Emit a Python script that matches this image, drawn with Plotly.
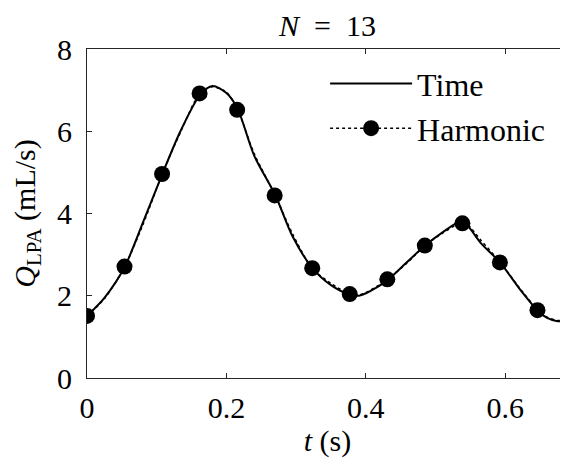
import plotly.graph_objects as go

# Harmonic samples (13 points over one 0.7 s period)
t_harm = [0.0, 0.0538, 0.1077, 0.1615, 0.2154, 0.2692, 0.3231, 0.3769, 0.4308, 0.4846, 0.5385, 0.5923, 0.6462]
q_harm = [1.51, 2.71, 4.96, 6.92, 6.52, 4.44, 2.67, 2.04, 2.40, 3.22, 3.76, 2.81, 1.65]

# Time-domain solution
t_time = [0.0, 0.025, 0.054, 0.08, 0.108, 0.134, 0.162, 0.18, 0.20, 0.216, 0.24, 0.27, 0.295,
          0.323, 0.35, 0.377, 0.39, 0.405, 0.431, 0.458, 0.485, 0.51, 0.535, 0.545, 0.565,
          0.593, 0.62, 0.647, 0.66, 0.675, 0.69, 0.70]
q_time = [1.51, 1.95, 2.70, 3.77, 4.96, 6.0, 6.88, 7.10, 6.93, 6.55, 5.40, 4.45, 3.44,
          2.68, 2.26, 2.03, 2.00, 2.10, 2.38, 2.80, 3.22, 3.54, 3.80, 3.72, 3.28,
          2.80, 2.18, 1.63, 1.46, 1.38, 1.41, 1.51]

# Harmonic reconstruction (dotted)
t_hdot = [0.0, 0.025, 0.054, 0.08, 0.108, 0.134, 0.162, 0.18, 0.20, 0.216, 0.24, 0.27, 0.295,
          0.323, 0.35, 0.377, 0.39, 0.405, 0.431, 0.458, 0.485, 0.51, 0.535, 0.545, 0.565,
          0.593, 0.62, 0.647, 0.66, 0.675, 0.69, 0.70]
q_hdot = [1.51, 1.93, 2.71, 3.72, 4.96, 5.97, 6.92, 7.08, 6.95, 6.52, 5.45, 4.44, 3.50,
          2.67, 2.30, 2.04, 2.02, 2.12, 2.40, 2.78, 3.22, 3.52, 3.76, 3.74, 3.35,
          2.81, 2.20, 1.65, 1.48, 1.40, 1.42, 1.51]

x_ticks = [0, 0.2, 0.4, 0.6]
x_ticktext = ["0", "0.2", "0.4", "0.6"]
y_ticks = [0, 2, 4, 6, 8]
y_ticktext = ["0", "2", "4", "6", "8"]

FONT = "Liberation Serif, Times New Roman, serif"
AX = "#262626"

fig = go.Figure()
fig.add_trace(go.Scatter(
    x=t_time, y=q_time, mode="lines", name="Time",
    line=dict(color="black", width=2, shape="spline", smoothing=0.8),
))
fig.add_trace(go.Scatter(
    x=t_hdot, y=q_hdot, mode="lines", name="Harmonic curve", showlegend=False,
    line=dict(color="black", width=1.5, dash="dot", shape="spline", smoothing=0.8),
))
fig.add_trace(go.Scatter(
    x=t_harm, y=q_harm, mode="markers", name="Harmonic samples", showlegend=False,
    marker=dict(color="black", size=16),
))
# legend entry for the harmonic series (dotted line with marker)
fig.add_trace(go.Scatter(
    x=[None], y=[None], mode="lines+markers", name="Harmonic",
    line=dict(color="black", width=1.5, dash="dot"),
    marker=dict(color="black", size=16),
))

fig.update_layout(
    width=560, height=460,
    margin=dict(l=79, r=0, t=41, b=90),
    paper_bgcolor="white", plot_bgcolor="white",
    font=dict(family=FONT, size=30, color="black"),
    title=dict(text="<i>N</i>&nbsp;&nbsp;=&nbsp;&nbsp;13", x=0.5, xref="paper", xanchor="center",
               y=1, yref="container", yanchor="top", pad=dict(t=7),
               font=dict(family=FONT, size=30, color="black")),
    showlegend=True,
    legend=dict(x=0.495, y=0.978, xanchor="left", yanchor="top",
                bgcolor="rgba(0,0,0,0)", font=dict(family=FONT, size=32),
                itemwidth=82, tracegroupgap=0),
    xaxis=dict(range=[0, 0.690], tickvals=x_ticks, ticktext=x_ticktext,
               ticks="inside", ticklen=5, tickcolor=AX, showline=True, linecolor=AX,
               linewidth=1, mirror="ticks", showgrid=False, zeroline=False,
               ticklabelstandoff=3,
               title=dict(text="<i>t</i> (s)", standoff=4,
                          font=dict(family=FONT, size=30))),
    yaxis=dict(range=[0, 8], tickvals=y_ticks, ticktext=y_ticktext,
               ticks="inside", ticklen=5, tickcolor=AX, showline=True, linecolor=AX,
               linewidth=1, mirror=False, showgrid=False, zeroline=False,
               ticklabelstandoff=8,
               title=dict(text="<i>Q</i><sub>LPA</sub> (mL/s)", standoff=12,
                          font=dict(family=FONT, size=30))),
)

fig.write_html("out.html")
